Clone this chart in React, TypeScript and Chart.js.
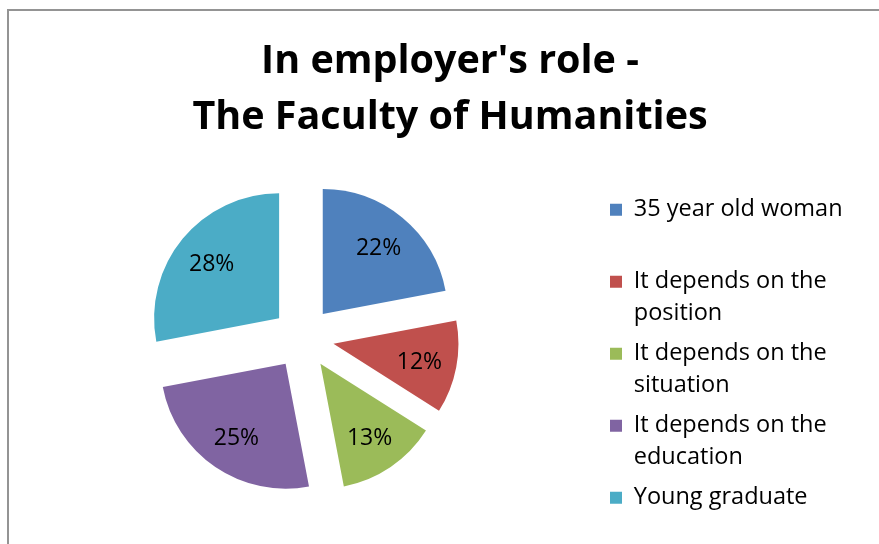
import React, { useEffect, useRef } from 'react';
import { Chart, registerables, layouts } from 'chart.js';

Chart.register(...registerables);

// ---- data ----
const categories = [
  '35 year old woman',
  'It depends on the position',
  'It depends on the situation',
  'It depends on the education',
  'Young graduate',
];
const values = [22, 12, 13, 25, 28];
const colors = ['#4F81BD', '#C0504D', '#9BBB59', '#8064A2', '#4BACC6'];
const titleLines = ["In employer's role -", 'The Faculty of Humanities'];

// ---- styles ----
const FONT = '"Open Sans", Lato, sans-serif';
const TITLE_SIZE = 39.5;
const LEGEND_SIZE = 23.5;
const LABEL_SIZE = 23;
const EXPLODE = 31;
const RADIUS = 125;
const LABEL_POS = 0.7;
const LEGEND_WRAP = 230;
const SIDE_WIDTH = 294;

function wrapText(ctx: CanvasRenderingContext2D, text: string, maxW: number): string[] {
  const words = text.split(' ');
  const lines: string[] = [];
  let cur = '';
  for (const w of words) {
    const test = cur ? cur + ' ' + w : w;
    if (cur && ctx.measureText(test).width > maxW) {
      lines.push(cur);
      cur = w;
    } else {
      cur = test;
    }
  }
  if (cur) lines.push(cur);
  return lines;
}

// layout box that reserves room on the right, so the pie sits left of the centred title
function makeSpacer(chart: any) {
  return {
    id: 'spacer',
    position: 'right',
    weight: 2000,
    fullSize: false,
    options: {},
    left: 0, top: 0, right: 0, bottom: 0, width: 0, height: 0,
    isHorizontal() { return false; },
    update(this: any, _maxWidth: number, maxHeight: number) {
      const lw = chart.legend ? chart.legend.width : 0;
      this.width = Math.max(0, SIDE_WIDTH - lw);
      this.height = maxHeight;
    },
    draw() {},
  };
}

const spacerPlugin = {
  id: 'rightSpacer',
  beforeInit(chart: any) {
    layouts.addBox(chart, makeSpacer(chart) as any);
  },
};

// exploded pie: every slice pushed out along its bisector, then percentage labels
const explodePlugin = {
  id: 'explode',
  beforeDatasetDraw(chart: any, args: any) {
    const ctx = chart.ctx;
    args.meta.data.forEach((arc: any) => {
      const { startAngle, endAngle } = arc.getProps(['startAngle', 'endAngle'], true);
      const mid = (startAngle + endAngle) / 2;
      ctx.save();
      ctx.translate(Math.cos(mid) * EXPLODE, Math.sin(mid) * EXPLODE);
      arc.draw(ctx);
      ctx.restore();
    });
    return false;
  },
  afterDatasetsDraw(chart: any) {
    const ctx = chart.ctx;
    const meta = chart.getDatasetMeta(0);
    const total = values.reduce((a, b) => a + b, 0);
    ctx.save();
    ctx.font = `${LABEL_SIZE}px ${FONT}`;
    ctx.fillStyle = '#000';
    ctx.textAlign = 'center';
    ctx.textBaseline = 'middle';
    meta.data.forEach((arc: any, i: number) => {
      const { x, y, startAngle, endAngle, outerRadius } = arc.getProps(
        ['x', 'y', 'startAngle', 'endAngle', 'outerRadius'], true);
      const mid = (startAngle + endAngle) / 2;
      const d = EXPLODE + outerRadius * LABEL_POS;
      ctx.fillText(`${Math.round((values[i] / total) * 100)}%`, x + Math.cos(mid) * d, y + Math.sin(mid) * d + 2);
    });
    ctx.restore();
  },
};

export default function App() {
  const ref = useRef<HTMLCanvasElement>(null);

  useEffect(() => {
    if (!ref.current) return;
    const chart = new Chart(ref.current, {
      type: 'pie',
      data: {
        labels: categories,
        datasets: [{ data: values, backgroundColor: colors, borderWidth: 0 }],
      },
      options: {
        responsive: false,
        animation: false,
        radius: RADIUS,
        layout: { padding: { left: 4, right: -17, top: 0, bottom: 18 } },
        plugins: {
          tooltip: { enabled: false },
          title: {
            display: true,
            text: titleLines,
            color: '#000',
            font: { family: FONT, size: TITLE_SIZE, weight: 'bold', lineHeight: '56px' },
            padding: { top: 33.5, bottom: 4.5 },
          },
          legend: {
            position: 'right',
            align: 'end',
            maxWidth: 400,
            labels: {
              boxWidth: 12,
              boxHeight: 12,
              padding: 8,
              color: '#000',
              font: { family: FONT, size: LEGEND_SIZE, lineHeight: '32px' },
              generateLabels(ch: any) {
                const c = ch.ctx;
                c.save();
                c.font = `${LEGEND_SIZE}px ${FONT}`;
                const wrapped = categories.map((t) => wrapText(c, t, LEGEND_WRAP));
                c.restore();
                const maxLines = Math.max(...wrapped.map((w) => w.length));
                return wrapped.map((lines, i) => {
                  const text = i < wrapped.length - 1
                    ? lines.concat(Array(maxLines - lines.length).fill(''))
                    : lines;
                  return {
                    text,
                    fillStyle: colors[i],
                    strokeStyle: colors[i],
                    lineWidth: 0,
                    hidden: false,
                    index: i,
                  };
                }) as any;
              },
            },
          },
        },
      } as any,
      plugins: [spacerPlugin as any, explodePlugin as any],
    });
    return () => chart.destroy();
  }, []);

  return (
    <div style={{ position: 'absolute', left: 0, top: 0, width: 879, height: 544, overflow: 'hidden', background: '#fff' }}>
      <div style={{ position: 'absolute', left: 7, top: 9, width: 1000, height: 1000, borderLeft: '2px solid #949494', borderTop: '2px solid #949494' }} />
      <canvas ref={ref} width={879} height={544} style={{ position: 'absolute', left: 0, top: 0, width: 879, height: 544 }} />
    </div>
  );
}
